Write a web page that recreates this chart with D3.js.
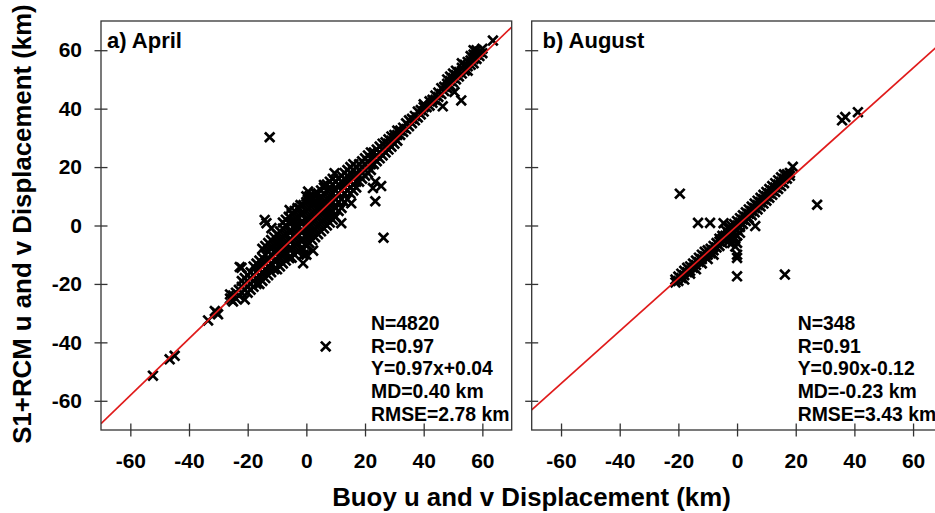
<html>
<head>
<meta charset="utf-8">
<title>Buoy vs S1+RCM displacement</title>
<script src="https://cdn.jsdelivr.net/npm/d3@7"></script>
<style>
  body { margin: 0; background: #fff; }
  text { font-family: "Liberation Sans", Arial, sans-serif; font-weight: bold; fill: #000; }
</style>
</head>
<body>
<div id="chart"></div>
<script type="text/javascript">
// axis ticks (km)
var xTicks = [-60, -40, -20, 0, 20, 40, 60];
var yTicks = [-60, -40, -20, 0, 20, 40, 60];

// April: dense core, read column by column [buoy x, [S1+RCM y ...]]
var aprilBand = [
  [-26, [-25, -23.6]], [-25, [-24, -26]], [-24, [-23, -25]], [-23, [-22, -24]],
  [-22, [-21, -23, -19]], [-21, [-20, -22, -18]],
  [-20, [-23, -21, -19, -17]], [-19, [-22, -20, -18, -16]], [-18, [-21, -19, -17, -14]],
  [-17, [-20, -18, -16, -13]], [-16, [-20, -17, -15, -12]], [-15, [-19, -16, -14, -11, -8]],
  [-14, [-18, -15, -13, -10, -7]], [-13, [-17, -14, -12, -9, -6]], [-12, [-16, -13, -10, -8, -5]],
  [-11, [-15, -12, -9, -7, -4]], [-10, [-15, -12, -9, -6, -3]], [-9, [-14, -11, -8, -5, -2]],
  [-8, [-13, -10, -7, -4, -1, 1]], [-7, [-12, -9, -6, -3, 0, 2]], [-6, [-11, -8, -5, -2, 1, 3]],
  [-5, [-11, -8, -5, -2, 1, 4]], [-4, [-10, -7, -4, -1, 2, 5]], [-3, [-9, -6, -3, 0, 3, 6]],
  [-2, [-8, -5, -2, 1, 4, 7]], [-1, [-10, -8, -5, -2, 1, 4, 7]], [0, [-10, -7, -4, -1, 2, 5, 8, 10]],
  [1, [-6, -3, 0, 3, 6, 9, 10]], [2, [-5, -2, 1, 4, 7, 10]], [3, [-4, -1, 2, 5, 8, 11]],
  [4, [-3, 0, 3, 6, 9, 11]], [5, [-2, 1, 4, 7, 10, 12]], [6, [-1, 2, 5, 8, 11, 13]],
  [7, [0, 3, 6, 9, 12, 14]], [8, [1, 4, 7, 10, 13, 15]], [9, [2, 5, 8, 11, 14, 16]],
  [10, [3, 6, 9, 12, 15]], [11, [5, 8, 11, 14, 16]], [12, [6, 9, 12, 15, 17]],
  [13, [8, 11, 13, 16, 18]], [14, [9, 12, 14, 17, 19]], [15, [11, 13, 15, 18, 20]],
  [16, [12, 14, 16, 19, 21]], [17, [13, 15, 17, 20]], [18, [15, 17, 19, 21]],
  [19, [16, 18, 20, 22]], [20, [17, 19, 21, 23]], [21, [18, 20, 22, 24]],
  [22, [19, 21, 23, 25]], [23, [21, 23, 25]], [24, [22, 24, 26]], [25, [23, 25, 27]],
  [26, [24, 26, 28]], [27, [25, 27, 28.5]], [28, [26, 28, 29.5]], [29, [27, 29, 30.5]],
  [30, [28, 30, 31]], [31, [29, 31, 32.5]], [32, [31, 32.5]], [33, [32, 33.5]],
  [34, [33, 35]], [35, [34, 36]], [36, [35, 36.5]], [37, [36, 37.5]], [38, [37, 39]], [39, [38, 39.5]],
  [40, [39, 40.5, 41.5]], [41, [40.5]], [42, [41, 42.5]], [43, [42, 43]], [44, [43, 44.5]],
  [45, [44, 45.5]], [46, [45, 47]], [47, [46, 47.5]], [48, [47, 48.5, 50]], [49, [48, 49.5, 51]],
  [50, [49, 50.5, 52]], [51, [50, 51.5, 53]], [52, [51, 52.5]], [53, [52, 54, 55.5]], [54, [53, 55]],
  [55, [53, 54.5, 56]], [56, [55, 56.5, 58]], [57, [55.5, 57, 58.5, 60]], [58, [57, 58.5, 60]],
  [59, [58, 59.5]], [60, [59, 60.5]], [63.6, [63.3]]
];
var aprilOutliers = [
  [-12.5, 30.2], [6.6, -41.4], [26.3, -4.2], [23.5, 8.3], [23.5, 15], [25.5, 13.5],
  [22.7, 12.8], [15.3, 7.6], [11.9, 0.8], [2.3, -8.6], [-1.1, -12.9], [-5.7, -11.1],
  [-22.7, -14.2], [-14.2, 1.9], [-13.6, 0.8], [-11.9, -0.9], [-5.7, 5.3], [-2.3, 5.9],
  [0.6, 11.6], [0.6, 8.8], [6, 13.9], [9.6, 17.9], [50.5, 45.7], [52.8, 42.8], [46.5, 40.8],
  [-52.3, -51.4], [-46.6, -45.8], [-44.9, -44.6], [-33.5, -32.5], [-31.2, -29.3],
  [-30.1, -30.4], [-30.6, -29.8], [-25.6, -25.3], [-21, -25.3], [-22.1, -14.5]
];
var aprilFit = [0.97, 0.04];
var aprilStats = ["N=4820", "R=0.97", "Y=0.97x+0.04", "MD=0.40 km", "RMSE=2.78 km"];

// August
var augustBand = [
  [-21, [-19.5, -18.5]], [-20, [-19, -17.5]], [-19, [-18, -16.5]], [-18, [-17, -15.5, -18.5]],
  [-17, [-16, -14.5]], [-16, [-15.5, -14, -16.5]], [-15, [-14.5, -13]], [-14, [-13.5, -12, -15]],
  [-13, [-12.5, -11]], [-12, [-11.5, -10, -13]], [-11, [-10.5, -9]], [-10, [-10, -8.5, -11.5]],
  [-9, [-9.5, -8]], [-8, [-8.5, -7, -10]], [-7, [-7.5, -6]], [-6, [-7, -5.5, -4.5]],
  [-5, [-6, -4.5, -3.5]], [-4, [-5, -3.5, -1.5]], [-3, [-4, -2.5, -1, -5.5]], [-2, [-3, -1.5, 0, -4.5]],
  [-1, [-2.5, -1, 0.5, -4]], [0, [-1.5, 0, 1.5, -3.5, -6]], [1, [-0.5, 1, 2.5, -2.5]], [2, [0.5, 2, 3.5]],
  [3, [1.5, 3, 4.5]], [4, [2.5, 4, 5.5]], [5, [3.5, 5, 6.5]], [6, [4.5, 6, 7.5]],
  [7, [5.5, 7, 8.5]], [8, [6.5, 8, 9.5]], [9, [7.5, 9, 10.5]], [10, [8.5, 10, 11.5]],
  [11, [9.5, 11, 12.5]], [12, [10.5, 12, 13.5]], [13, [11.5, 13, 14.5]], [14, [12.5, 14, 15.5]],
  [15, [13.5, 15, 16.5]], [16, [14.5, 16, 17.5]], [17, [16, 17.5]], [18, [17, 18]]
];
var augustOutliers = [
  [-19.5, 10.9], [-13.3, 0.9], [-9.2, 0.9], [27.3, 7.1], [35.8, 36], [36.9, 37.1],
  [41.2, 38.8], [19, 20.1], [6.2, -0.2], [0, -17.4], [16.3, -16.8], [0, -11.1],
  [-0.6, -7.2], [-1.7, -6], [0, -10], [-4.6, 0.8], [-2.8, -0.5]
];
var augustFit = [0.90, -0.12];
var augustStats = ["N=348", "R=0.91", "Y=0.90x-0.12", "MD=-0.23 km", "RMSE=3.43 km"];

function flatten(band, extra) {
  var pts = [];
  band.forEach(function(c) { c[1].forEach(function(y) { pts.push([c[0], y]); }); });
  return pts.concat(extra);
}

var W = 935, H = 513;
var plotTop = 21, plotBottom = 430, pw = 410.7;
var panels = [
  { left: 101, title: "a) April", titleX: 107, pts: flatten(aprilBand, aprilOutliers), fit: aprilFit, stats: aprilStats, statsX: 371, ylab: true },
  { left: 531.7, title: "b) August", titleX: 542.5, pts: flatten(augustBand, augustOutliers), fit: augustFit, stats: augustStats, statsX: 797.7, ylab: false }
];

var svg = d3.select("#chart").append("svg").attr("width", W).attr("height", H);
var cross = "M-4.8,-4.8L4.8,4.8M-4.8,4.8L4.8,-4.8";
var plain = function(d) { return String(d); }; // hyphen minus like R

panels.forEach(function(p, i) {
  var x = d3.scaleLinear().domain([-70, 70]).range([p.left, p.left + pw]);
  var y = d3.scaleLinear().domain([-70, 70]).range([plotBottom, plotTop]);

  var clipId = "clip" + i;
  svg.append("clipPath").attr("id", clipId).append("rect")
     .attr("x", p.left).attr("y", plotTop).attr("width", pw).attr("height", plotBottom - plotTop);

  var g = svg.append("g");

  // points
  g.append("g").selectAll("path").data(p.pts).enter().append("path")
    .attr("d", cross)
    .attr("transform", function(d) { return "translate(" + x(d[0]) + "," + y(d[1]) + ")"; })
    .attr("stroke", "#000").attr("stroke-width", 2.7).attr("fill", "none");

  // regression line
  var line = d3.line().x(function(d) { return x(d); }).y(function(d) { return y(p.fit[0] * d + p.fit[1]); });
  g.append("path").attr("d", line([-70, 70])).attr("clip-path", "url(#" + clipId + ")")
    .attr("stroke", "#e01b1b").attr("stroke-width", 1.7).attr("fill", "none");

  // frame
  g.append("rect").attr("x", p.left).attr("y", plotTop).attr("width", pw).attr("height", plotBottom - plotTop)
    .attr("fill", "none").attr("stroke", "#333").attr("stroke-width", 1.3);

  // axes (ticks cross the frame)
  var xa = g.append("g").attr("transform", "translate(0," + (plotBottom - 6.5) + ")")
    .call(d3.axisBottom(x).tickValues(xTicks).tickSize(13).tickPadding(16.5).tickFormat(plain));
  var ya = g.append("g").attr("transform", "translate(" + (p.left + 6.5) + ",0)")
    .call(d3.axisLeft(y).tickValues(yTicks).tickSize(13).tickPadding(12.5)
      .tickFormat(p.ylab ? plain : function() { return ""; }));
  [xa, ya].forEach(function(a) {
    a.select(".domain").remove();
    a.selectAll("line").attr("stroke", "#333").attr("stroke-width", 1.3);
    a.selectAll("text").attr("font-size", 21).attr("font-family", null).attr("fill", "#000");
  });

  // title
  g.append("text").attr("x", p.titleX).attr("y", 47.5).attr("font-size", 22).text(p.title);

  // stats
  g.append("g").selectAll("text").data(p.stats).enter().append("text")
    .attr("x", p.statsX).attr("y", function(d, k) { return 330 + k * 22.7; })
    .attr("font-size", 19.4).text(function(d) { return d; });
});

svg.append("text").attr("x", 531.5).attr("y", 506).attr("text-anchor", "middle")
  .attr("font-size", 25.8).text("Buoy u and v Displacement (km)");
svg.append("text").attr("transform", "translate(31,224) rotate(-90)").attr("text-anchor", "middle")
  .attr("font-size", 25.8).text("S1+RCM u and v Displacement (km)");
</script>
</body>
</html>
